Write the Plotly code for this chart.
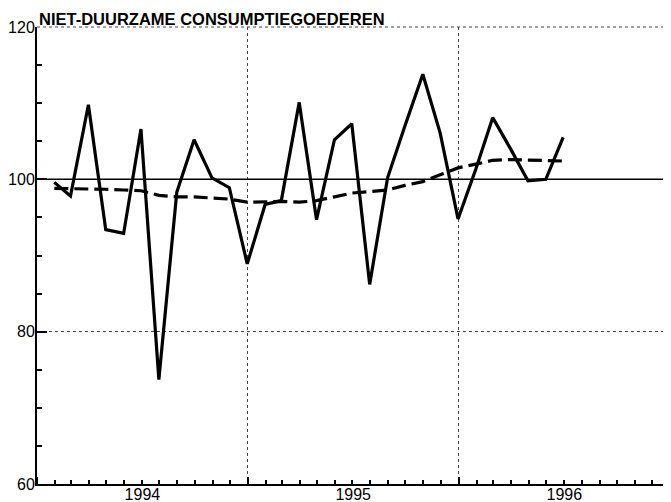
import pandas as pd
import plotly.graph_objects as go

# monthly index (volume, 1990=100) and its trend, Jan 1994 - Jun 1996
months = pd.date_range("1994-01-31", periods=30, freq="ME")
volume = [
    99.6, 97.8, 109.8, 93.4, 92.9, 106.6, 73.7, 98.3, 105.2, 100.2, 98.9, 88.9,
    96.7, 97.2, 110.1, 94.7, 105.2, 107.3, 86.2, 100.2, 107.0, 113.8, 106.1, 94.8,
    101.4, 108.1, 104.0, 99.8, 100.0, 105.5,
]
trend = [
    98.8, 98.8, 98.8, 98.7, 98.6, 98.5, 97.9, 97.7, 97.7, 97.5, 97.4, 97.0,
    97.1, 97.1, 97.0, 97.2, 97.7, 98.2, 98.4, 98.6, 99.2, 99.7, 100.6, 101.5,
    102.0, 102.5, 102.6, 102.5, 102.4, 102.4,
]
y_ticks = [60, 80, 100, 120]
title = "NIET-DUURZAME CONSUMPTIEGOEDEREN"

FONT = "Liberation Sans, Arial, sans-serif"
GRID = dict(color="#444", width=1, dash="dot")

fig = go.Figure()
fig.add_trace(go.Scatter(x=months, y=volume, mode="lines",
                         line=dict(color="black", width=3.2)))
fig.add_trace(go.Scatter(x=months, y=trend, mode="lines",
                         line=dict(color="black", width=3.2, dash="14px,6px")))
fig.add_hline(y=100, line=dict(color="black", width=1.5))

# dotted frame on top and right (plotly skips grid lines on the plot edge)
fig.add_shape(type="line", xref="paper", yref="paper", x0=0, x1=1, y0=1, y1=1, line=GRID)
fig.add_shape(type="line", xref="paper", yref="paper", x0=1, x1=1, y0=0, y1=1, line=GRID)

fig.update_xaxes(
    type="date",
    range=["1994-01-01", "1997-01-01"],
    dtick="M12",
    tick0="1994-01-01",
    ticklabelmode="period",
    tickformat="%Y",
    ticks="inside",
    ticklen=7,
    tickcolor="black",
    tickwidth=1.5,
    showgrid=True,
    gridcolor=GRID["color"],
    griddash="dot",
    gridwidth=1,
    showline=True,
    linecolor="black",
    linewidth=2,
    zeroline=False,
    automargin=False,
    ticklabelstandoff=-5,
    tickfont=dict(family=FONT, size=16, color="black"),
    minor=dict(dtick="M1", tick0="1994-01-01", ticks="inside", ticklen=4,
               tickcolor="black", tickwidth=1.5, showgrid=False),
)
fig.update_yaxes(
    range=[60, 120],
    tickvals=y_ticks,
    ticks="inside",
    ticklen=10,
    tickcolor="black",
    tickwidth=1.5,
    showgrid=True,
    gridcolor=GRID["color"],
    griddash="dot",
    gridwidth=1,
    showline=True,
    linecolor="black",
    linewidth=2,
    zeroline=False,
    automargin=False,
    ticklabelstandoff=-3,
    tickfont=dict(family=FONT, size=16, color="black"),
    minor=dict(dtick=5, ticks="inside", ticklen=5, tickcolor="black",
               tickwidth=1.5, showgrid=False),
)

fig.add_annotation(
    text=title, x=0, y=1, xref="paper", yref="paper",
    xanchor="left", yanchor="bottom", showarrow=False, xshift=0, yshift=-3,
    font=dict(family=FONT, size=16.5, color="black", weight="bold"),
)

# the page body adds an 8px offset, so the figure is sized to fit the window
fig.update_layout(
    width=663, height=494,
    margin=dict(l=29, r=1, t=19, b=18),
    plot_bgcolor="white",
    paper_bgcolor="white",
    showlegend=False,
)

fig.write_html("out.html")
